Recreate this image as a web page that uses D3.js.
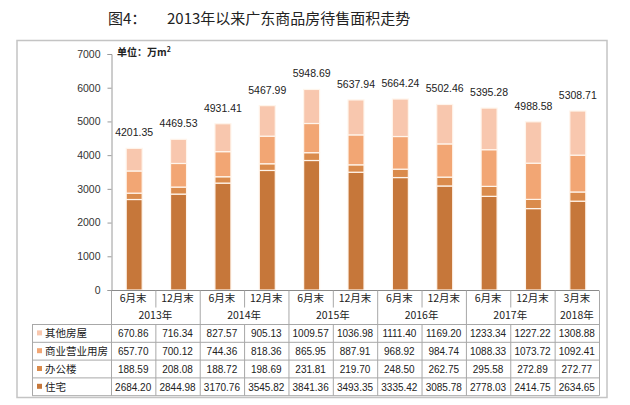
<!DOCTYPE html>
<html><head><meta charset="utf-8">
<script src="https://cdn.jsdelivr.net/npm/d3@7/dist/d3.min.js"></script>
<style>
html,body{margin:0;padding:0;background:#fff;}
svg{display:block;}
</style></head>
<body><svg id="c" width="630" height="405"></svg>
<script>
const months = ["6月末","12月末","6月末","12月末","6月末","12月末","6月末","12月末","6月末","12月末","3月末"];
const years = [{label:"2013年",from:0,to:1},{label:"2014年",from:2,to:3},{label:"2015年",from:4,to:5},{label:"2016年",from:6,to:7},{label:"2017年",from:8,to:9},{label:"2018年",from:10,to:10}];
const seriesNames = ["住宅","办公楼","商业营业用房","其他房屋"];
const zhuzhai = [2684.20,2844.98,3170.76,3545.82,3841.36,3493.35,3335.42,3085.78,2778.03,2414.75,2634.65];
const bangong = [188.59,208.08,188.72,198.69,231.81,219.70,248.50,262.75,295.58,272.89,272.77];
const shangye = [657.70,700.12,744.36,818.36,865.95,887.91,968.92,984.74,1088.33,1073.72,1092.41];
const qita = [670.86,716.34,827.57,905.13,1009.57,1036.98,1111.40,1169.20,1233.34,1227.22,1308.88];
const totals = [4201.35,4469.53,4931.41,5467.99,5948.69,5637.94,5664.24,5502.46,5395.28,4988.58,5308.71];
const yTicks = [0,1000,2000,3000,4000,5000,6000,7000];
const colors = ["#C6773A","#DA8B4C","#F2A674","#F8C7AE"];

const svg = d3.select("#c");
const cjk = "'Noto Sans CJK SC','Noto Sans',sans-serif";
const num = "'Liberation Sans','DejaVu Sans',sans-serif";

// outer frame
svg.append("rect").attr("x",17).attr("y",40.5).attr("width",590).attr("height",357)
  .attr("fill","none").attr("stroke","#c4c4c4").attr("stroke-width",1.5);

// title
svg.append("text").attr("x",108).attr("y",24).attr("font-family",cjk).attr("font-size",15).attr("fill","#222").text("图4：");
svg.append("text").attr("x",167).attr("y",24).attr("font-family",cjk).attr("font-size",15).attr("fill","#222").text("2013年以来广东商品房待售面积走势");

const x0 = 111, x1 = 599;
const x = d3.scaleBand().domain(d3.range(months.length)).range([x0,x1]).padding(0);
const y = d3.scaleLinear().domain([0,7000]).range([290,54]);

// y axis
const yAxis = d3.axisLeft(y).tickValues(yTicks).tickSize(4).tickPadding(7).tickFormat(d3.format("d"));
const gy = svg.append("g").attr("transform",`translate(${x0+0.5},0)`).call(yAxis);
gy.select(".domain").attr("stroke","#9a9a9a");
gy.selectAll(".tick line").attr("stroke","#9a9a9a");
gy.selectAll(".tick text").attr("font-family",num).attr("font-size",10.5).attr("fill","#333");

// unit label
const unit = svg.append("text").attr("x",117).attr("y",56).attr("font-family",cjk).attr("font-size",10).attr("font-weight","bold").attr("fill","#222");
unit.append("tspan").text("单位：万m");
unit.append("tspan").attr("dy",-4).attr("font-size",7).text("2");

// stacked bars
const data = months.map((m,i)=>({i, 住宅:zhuzhai[i], 办公楼:bangong[i], 商业营业用房:shangye[i], 其他房屋:qita[i]}));
const stack = d3.stack().keys(seriesNames)(data);
const bw = 16;
svg.append("g").selectAll("g").data(stack).join("g").attr("fill",(d,k)=>colors[k])
  .selectAll("rect").data(d=>d).join("rect")
  .attr("x",d=>x(d.data.i)+x.bandwidth()/2-bw/2+1)
  .attr("width",bw)
  .attr("y",d=>y(d[1]))
  .attr("height",d=>y(d[0])-y(d[1]))
  .attr("stroke","#fff5ec").attr("stroke-width",1.2);

// total labels
svg.append("g").selectAll("text").data(totals).join("text")
  .attr("x",(d,i)=>x(i)+x.bandwidth()/2+1)
  .attr("y",d=>y(d)-12)
  .attr("text-anchor","middle").attr("font-family",num).attr("font-size",10.5).attr("fill","#222")
  .text(d=>d3.format(".2f")(d));

// x axis line
svg.append("line").attr("x1",x0).attr("x2",x1).attr("y1",290.5).attr("y2",290.5).attr("stroke","#8a8a8a");

// table
const lineC = "#a8a8a8";
const tb = svg.append("g");
const rowTop = 324.5, rowH = 17.8;
const labX = 32;
const rows = [
  {name:"其他房屋",vals:qita,color:colors[3]},
  {name:"商业营业用房",vals:shangye,color:colors[2]},
  {name:"办公楼",vals:bangong,color:colors[1]},
  {name:"住宅",vals:zhuzhai,color:colors[0]}
];
for(let r=0;r<=rows.length;r++){
  tb.append("line").attr("x1",labX).attr("x2",x1).attr("y1",rowTop+r*rowH).attr("y2",rowTop+r*rowH).attr("stroke",lineC);
}
tb.append("line").attr("x1",labX+0.5).attr("x2",labX+0.5).attr("y1",rowTop).attr("y2",rowTop+rows.length*rowH).attr("stroke",lineC);
const yearStarts = new Set(years.map(d=>d.from));
for(let i=0;i<=months.length;i++){
  const xx = (i<months.length? x(i) : x1)+0.5;
  const full = i===0 || i===months.length || yearStarts.has(i);
  tb.append("line").attr("x1",xx).attr("x2",xx)
    .attr("y1",290.5).attr("y2", full ? rowTop+rows.length*rowH : 307.5)
    .attr("stroke",lineC);
  if(!full){
    tb.append("line").attr("x1",xx).attr("x2",xx).attr("y1",rowTop).attr("y2",rowTop+rows.length*rowH).attr("stroke",lineC);
  }
}
tb.selectAll("text.m").data(months).join("text").attr("class","m")
  .attr("x",(d,i)=>x(i)+x.bandwidth()/2).attr("y",302)
  .attr("text-anchor","middle").attr("font-family",cjk).attr("font-size",10.5).attr("fill","#222").text(d=>d);
tb.selectAll("text.yr").data(years).join("text").attr("class","yr")
  .attr("x",d=>(x(d.from)+x(d.to)+x.bandwidth())/2).attr("y",319)
  .attr("text-anchor","middle").attr("font-family",cjk).attr("font-size",10.5).attr("fill","#222").text(d=>d.label);
rows.forEach((r,k)=>{
  const cy = rowTop + k*rowH + rowH/2;
  tb.append("rect").attr("x",37).attr("y",cy-3).attr("width",5).attr("height",5).attr("fill",r.color);
  tb.append("text").attr("x",45).attr("y",cy+4).attr("font-family",cjk).attr("font-size",10.5).attr("fill","#222").text(r.name);
  tb.selectAll(null).data(r.vals).join("text")
    .attr("x",(d,i)=>x(i)+x.bandwidth()/2).attr("y",cy+3.8)
    .attr("text-anchor","middle").attr("font-family",num).attr("font-size",10).attr("fill","#222")
    .text(d=>d3.format(".2f")(d));
});
</script>
</body></html>
